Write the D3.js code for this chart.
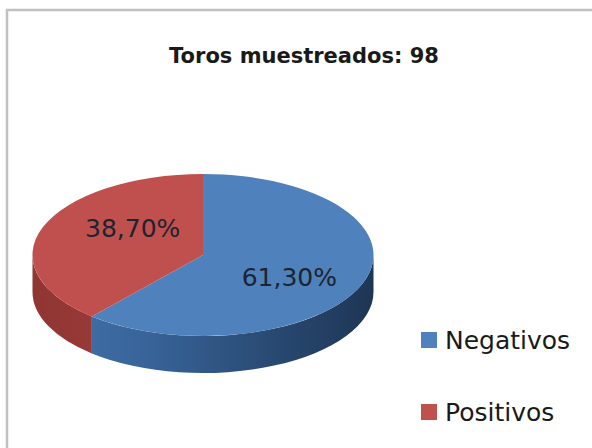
<!DOCTYPE html>
<html>
<head>
<meta charset="utf-8">
<script src="https://cdn.jsdelivr.net/npm/d3@7"></script>
<style>
  html, body { margin: 0; padding: 0; background: #ffffff; }
  svg { display: block; }
</style>
</head>
<body>
<svg id="chart" width="592" height="448"></svg>
<script>
// ---- data ----
const categories = ["Negativos", "Positivos"];
const values = [61.3, 38.7];
const labels = ["61,30%", "38,70%"];
const title = "Toros muestreados: 98";

// ---- styling / layout ----
const W = 592, H = 448;
const topColors = ["#4f81bd", "#c0504d"];
const cx = 203, cy = 255, rx = 170.5, ry = 81, depth = 37;

const svg = d3.select("#chart");
svg.append("rect").attr("width", W).attr("height", H).attr("fill", "#fff");

// frame (left and top edge visible)
svg.append("path")
  .attr("d", `M7,${H} L7,10 L${W},10`)
  .attr("fill", "none").attr("stroke", "#c0c0c0").attr("stroke-width", 2.5);

// gradients for side walls
const defs = svg.append("defs");
const gB = defs.append("linearGradient").attr("id", "sideB")
  .attr("gradientUnits", "userSpaceOnUse")
  .attr("x1", cx - rx).attr("y1", 0).attr("x2", cx + rx).attr("y2", 0);
gB.append("stop").attr("offset", "0%").attr("stop-color", "#4474ad");
gB.append("stop").attr("offset", "35%").attr("stop-color", "#376398");
gB.append("stop").attr("offset", "75%").attr("stop-color", "#27466d");
gB.append("stop").attr("offset", "100%").attr("stop-color", "#1e3655");
const gR = defs.append("linearGradient").attr("id", "sideR")
  .attr("gradientUnits", "userSpaceOnUse")
  .attr("x1", cx - rx).attr("y1", 0).attr("x2", cx).attr("y2", 0);
gR.append("stop").attr("offset", "0%").attr("stop-color", "#8f3532");
gR.append("stop").attr("offset", "100%").attr("stop-color", "#a8433f");
const sideFill = ["url(#sideB)", "url(#sideR)"];

const pie = d3.pie().sort(null).value(d => d)(values);

const pt = (a, dy = 0) => [cx + rx * Math.sin(a), cy - ry * Math.cos(a) + dy];

// side walls (front half only: angles between PI/2 and 3PI/2)
pie.forEach((s, i) => {
  const b0 = Math.max(s.startAngle, Math.PI / 2);
  const b1 = Math.min(s.endAngle, 3 * Math.PI / 2);
  if (b1 <= b0) return;
  const p0 = pt(b0), p1 = pt(b1), q1 = pt(b1, depth), q0 = pt(b0, depth);
  const d = `M${p0} A${rx},${ry} 0 0 1 ${p1} L${q1} A${rx},${ry} 0 0 0 ${q0} Z`;
  svg.append("path").attr("d", d).attr("fill", sideFill[i]);
});

// top surfaces
pie.forEach((s, i) => {
  const p0 = pt(s.startAngle), p1 = pt(s.endAngle);
  const large = (s.endAngle - s.startAngle) > Math.PI ? 1 : 0;
  const d = `M${cx},${cy} L${p0} A${rx},${ry} 0 ${large} 1 ${p1} Z`;
  svg.append("path").attr("d", d).attr("fill", topColors[i]);
});

// data labels
pie.forEach((s, i) => {
  const m = (s.startAngle + s.endAngle) / 2;
  svg.append("text")
    .attr("x", cx + 8 + 0.49 * rx * Math.sin(m))
    .attr("y", cy - 2.5 - 0.88 * ry * Math.cos(m))
    .attr("dy", "0.36em")
    .attr("text-anchor", "middle")
    .attr("font-family", "DejaVu Sans, sans-serif")
    .attr("font-size", 25)
    .attr("fill", "#1c2430")
    .text(labels[i]);
});

// title
svg.append("text")
  .attr("x", 304).attr("y", 63)
  .attr("text-anchor", "middle")
  .attr("font-family", "DejaVu Sans, sans-serif")
  .attr("font-weight", "bold")
  .attr("font-size", 21)
  .attr("fill", "#1a1a1a")
  .text(title);

// legend
const ly = d3.scalePoint().domain(categories).range([340, 412]);
const leg = svg.append("g").selectAll("g").data(categories).join("g")
  .attr("transform", d => `translate(421,${ly(d)})`);
leg.append("rect").attr("x", 0).attr("y", -8).attr("width", 16).attr("height", 16)
  .attr("fill", (d, i) => topColors[i]);
leg.append("text").attr("x", 24).attr("y", 0).attr("dy", "0.36em")
  .attr("font-family", "DejaVu Sans, sans-serif")
  .attr("font-size", 25)
  .attr("fill", "#1a1a1a")
  .text(d => d);
</script>
</body>
</html>
